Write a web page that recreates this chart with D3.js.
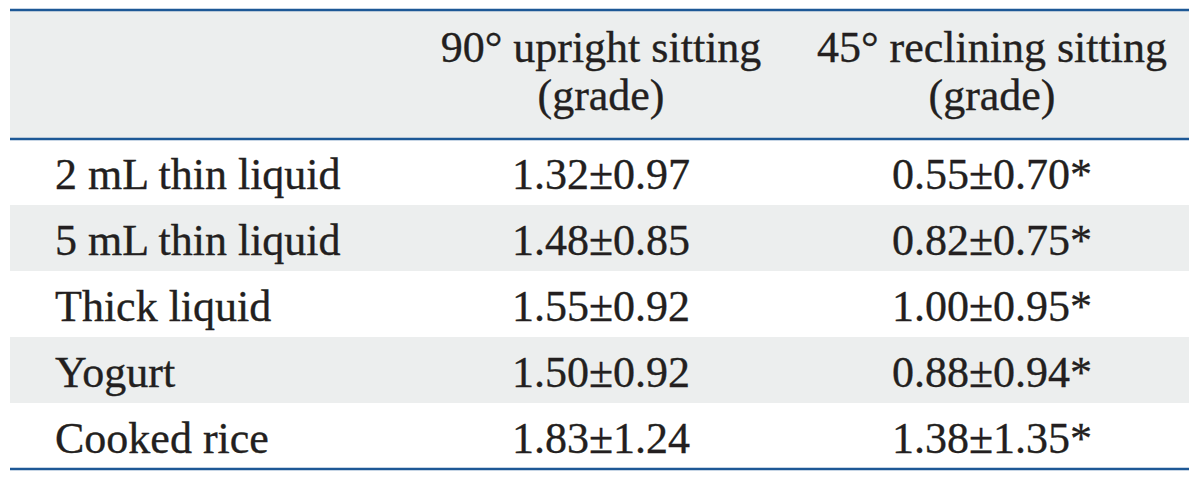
<!DOCTYPE html>
<html>
<head>
<meta charset="utf-8">
<script src="https://cdn.jsdelivr.net/npm/d3@7"></script>
<style>
html, body { margin: 0; padding: 0; background: #fff; }
svg text { font-family: "Liberation Serif", "DejaVu Serif", serif; fill: #231f20; stroke: #231f20; stroke-width: 0.35px; }
</style>
</head>
<body>
<div id="tableDiv"></div>
<script>
// table values
const foods = ["2 mL thin liquid", "5 mL thin liquid", "Thick liquid", "Yogurt", "Cooked rice"];
const uprightMean = ["1.32", "1.48", "1.55", "1.50", "1.83"];
const uprightSD = ["0.97", "0.85", "0.92", "0.92", "1.24"];
const recliningMean = ["0.55", "0.82", "1.00", "0.88", "1.38"];
const recliningSD = ["0.70", "0.75", "0.95", "0.94", "1.35"];
const significant = [true, true, true, true, true];
const headerLines = [["", ""], ["90\u00b0 upright sitting", "(grade)"], ["45\u00b0 reclining sitting", "(grade)"]];

const width = 1200, height = 481;
const svg = d3.select("#tableDiv").append("svg").attr("width", width).attr("height", height);

const left = 10, right = 1189;
const headTop = 10, headBottom = 139, tableBottom = 469;
const lineColor = "#1d5896";
const fontSize = 44;

// scales
const rowScale = d3.scaleBand().domain(foods).range([headBottom, tableBottom]);
const colScale = d3.scaleOrdinal().domain([0, 1, 2]).range([55, 601, 992]);

// header background
svg.append("rect").attr("x", left).attr("y", headTop).attr("width", right - left)
  .attr("height", headBottom - headTop).attr("fill", "#eceeee");

// row stripes
svg.selectAll("rect.stripe").data(foods).enter().append("rect")
  .attr("class", "stripe")
  .attr("x", left).attr("y", d => rowScale(d))
  .attr("width", right - left).attr("height", rowScale.bandwidth())
  .attr("fill", (d, i) => i % 2 === 1 ? "#eceeee" : "#ffffff");

// header text
const head = svg.append("g").attr("class", "header");
headerLines.forEach((lines, c) => {
  lines.forEach((t, k) => {
    if (!t) return;
    head.append("text")
      .attr("x", colScale(c))
      .attr("y", 62 + k * 48)
      .attr("text-anchor", "middle")
      .attr("font-size", fontSize)
      .text(t);
  });
});

// body rows
const rows = svg.selectAll("g.row").data(foods).enter().append("g")
  .attr("class", "row")
  .attr("transform", d => "translate(0," + (rowScale(d) + rowScale.bandwidth() / 2 + 17) + ")");

rows.append("text")
  .attr("x", colScale(0))
  .attr("font-size", fontSize)
  .text(d => d);

rows.append("text")
  .attr("x", colScale(1))
  .attr("text-anchor", "middle")
  .attr("font-size", fontSize)
  .text((d, i) => uprightMean[i] + "\u00b1" + uprightSD[i]);

rows.append("text")
  .attr("x", colScale(2))
  .attr("text-anchor", "middle")
  .attr("font-size", fontSize)
  .text((d, i) => recliningMean[i] + "\u00b1" + recliningSD[i] + (significant[i] ? "*" : ""));

// rules
[headTop, headBottom, tableBottom].forEach(y => {
  svg.append("line")
    .attr("x1", left).attr("x2", right)
    .attr("y1", y).attr("y2", y)
    .attr("stroke", lineColor).attr("stroke-width", 2.5);
});
</script>
</body>
</html>
